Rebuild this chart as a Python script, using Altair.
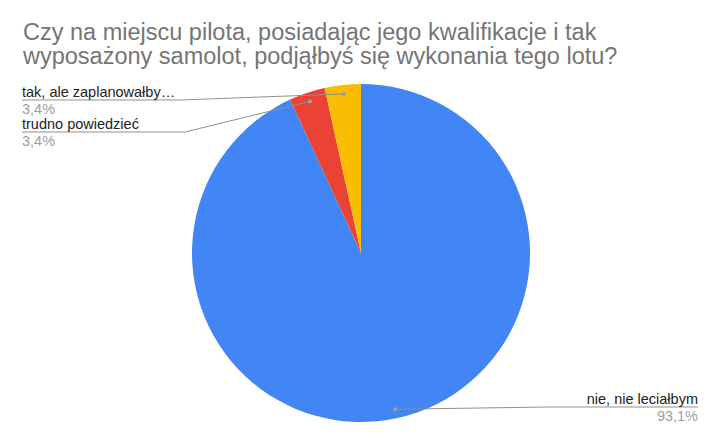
import math
import altair as alt
import pandas as pd

# ---- data ----
labels = ["nie, nie leciałbym", "trudno powiedzieć", "tak, ale zaplanowałby…"]
counts = [27, 1, 1]
colors = ["#4285F4", "#EA4335", "#FBBC04"]
title_lines = [
    "Czy na miejscu pilota, posiadając jego kwalifikacje i tak",
    "wyposażony samolot, podjąłbyś się wykonania tego lotu?",
]

# ---- layout (chart pixel space) ----
CX, CY, R = 353, 245, 169
DOT_R = 160
FONT = "Liberation Sans"
# align, text x, underline y, elbow x
anchors = {
    labels[0]: ("right", 690, 399, 539),
    labels[1]: ("left", 14, 124, 177),
    labels[2]: ("left", 14, 92, 172),
}

total = sum(counts)
df = pd.DataFrame({"label": labels, "count": counts, "order": range(len(labels))})
df["pct"] = [f"{100 * c / total:.1f}".replace(".", ",") + "%" for c in counts]

# dot positions computed from slice mid-angles
cum = 0
dots, lines, texts = [], [], []
for lab, c, p in zip(labels, counts, df["pct"]):
    mid = 2 * math.pi * (cum + c / 2) / total
    cum += c
    dx = CX + DOT_R * math.sin(mid)
    dy = CY - DOT_R * math.cos(mid)
    align, tx, ly, ex = anchors[lab]
    dots.append({"label": lab, "x": dx, "y": dy})
    lines += [
        {"label": lab, "seq": 0, "x": dx, "y": dy},
        {"label": lab, "seq": 1, "x": ex, "y": ly},
        {"label": lab, "seq": 2, "x": tx, "y": ly},
    ]
    texts.append({"label": lab, "pct": p, "align": align, "x": tx, "yname": ly - 3, "ypct": ly + 14})

dots_df = pd.DataFrame(dots)
lines_df = pd.DataFrame(lines)
texts_df = pd.DataFrame(texts)

pie = (
    alt.Chart(df)
    .mark_arc(radius=R)
    .encode(
        theta=alt.Theta("count:Q", stack=True),
        color=alt.Color("label:N", scale=alt.Scale(domain=labels, range=colors), legend=None),
        order=alt.Order("order:Q"),
        x=alt.value(CX),
        y=alt.value(CY),
    )
)

X = lambda f: alt.X(f, type="quantitative", scale=None, axis=None)
Y = lambda f: alt.Y(f, type="quantitative", scale=None, axis=None)

leader = (
    alt.Chart(lines_df)
    .mark_line(color="#8f8f8f", strokeWidth=1)
    .encode(x=X("x"), y=Y("y"), detail="label:N", order="seq:Q")
)

dot = (
    alt.Chart(dots_df)
    .mark_circle(size=18, color="#9aa0a6", opacity=1)
    .encode(x=X("x"), y=Y("y"))
)

layers = [pie, leader, dot]
for al in ["left", "right"]:
    sub = texts_df[texts_df["align"] == al]
    layers.append(
        alt.Chart(sub)
        .mark_text(align=al, baseline="alphabetic", font=FONT, fontSize=14.5, color="#222222")
        .encode(x=X("x"), y=Y("yname"), text="label:N")
    )
    layers.append(
        alt.Chart(sub)
        .mark_text(align=al, baseline="alphabetic", font=FONT, fontSize=14.5, color="#9e9e9e")
        .encode(x=X("x"), y=Y("ypct"), text="pct:N")
    )

title = (
    alt.Chart(pd.DataFrame({"t": [0]}))
    .mark_text(align="left", baseline="alphabetic", font=FONT, fontSize=23.5, lineHeight=24, color="#757575")
    .encode(x=alt.value(15), y=alt.value(32), text=alt.value(title_lines))
)
layers.append(title)

chart = (
    alt.layer(*layers)
    .properties(width=700, height=420, padding=0, background="white")
    .configure_view(stroke=None)
)

chart.save("out.html", embed_options={"renderer": "svg", "actions": False})
